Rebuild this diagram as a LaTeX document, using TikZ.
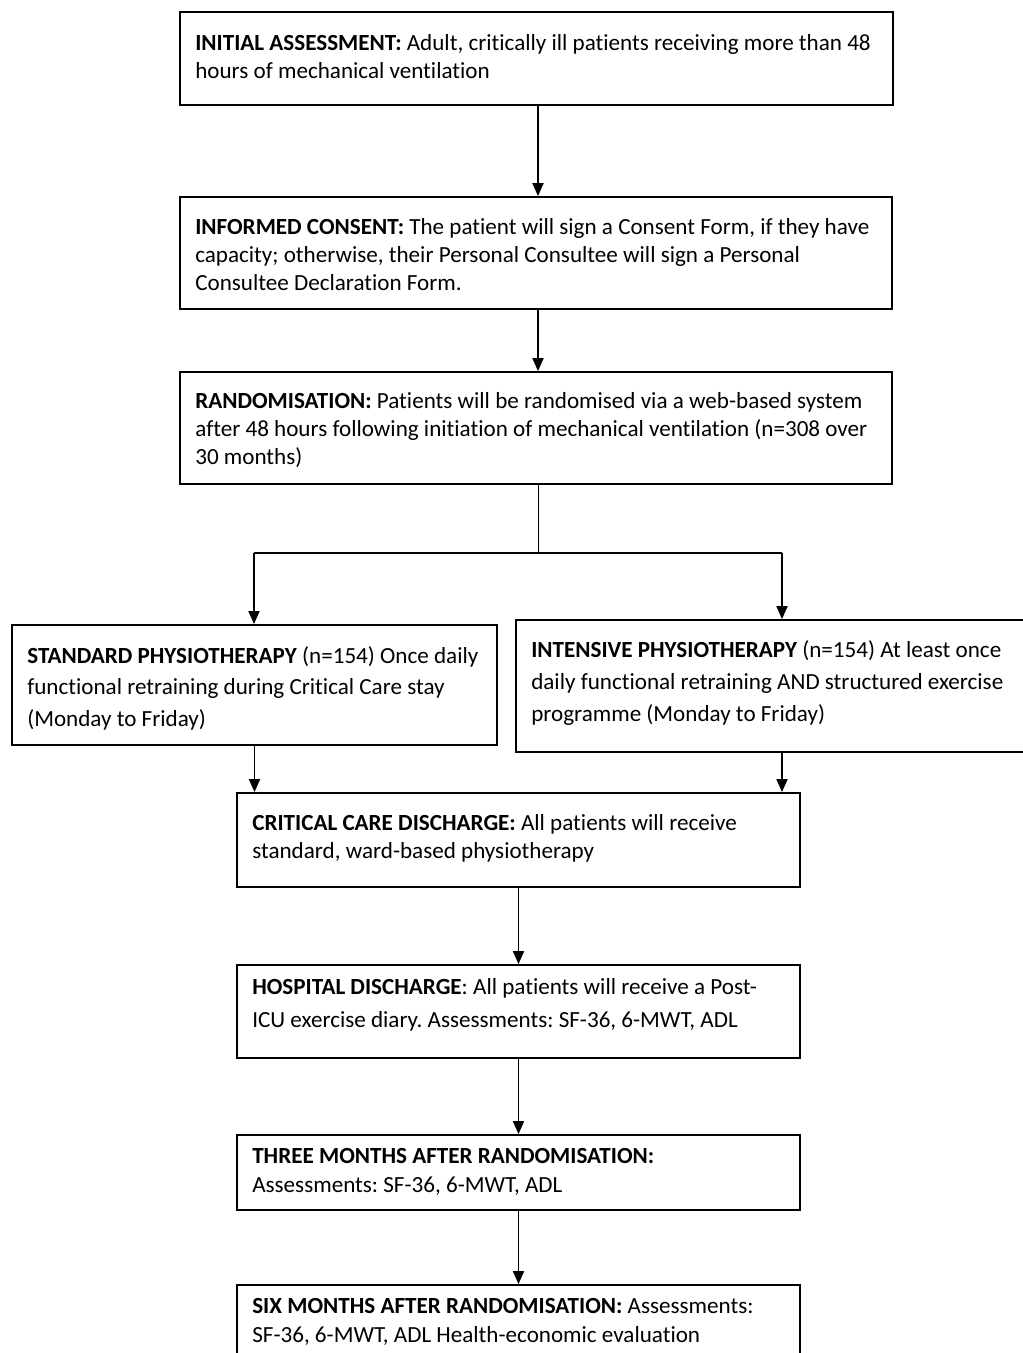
\documentclass[tikz,border=0pt]{standalone}
\usepackage{fontspec}
\setmainfont{Carlito}[Ligatures={NoCommon}]
\usetikzlibrary{arrows.meta}
\begin{document}
\frenchspacing
\begin{tikzpicture}[x=1pt,y=-1pt,
  box/.style={draw, line width=1.8pt, rectangle, inner sep=0pt},
  txt/.style={anchor=west, align=left, inner sep=0pt, font=\fontsize{23.1}{28}\selectfont\frenchspacing},
  arr/.style={line width=1.8pt, -{Triangle[length=13pt,width=11pt]}}]
\useasboundingbox (0,0) rectangle (1023,1353);
\clip (0,0) rectangle (1023,1353);
% boxes
\node[box, minimum width=713pt, minimum height=93pt] (b1) at (536.5,58.5) {};
\node[box, minimum width=712pt, minimum height=112pt] (b2) at (536,253) {};
\node[box, minimum width=712pt, minimum height=112pt] (b3) at (536,428) {};
\node[box, minimum width=485pt, minimum height=120pt] (b4) at (254.5,685) {};
\node[box, minimum width=532pt, minimum height=132pt] (b5) at (782,686) {};
\node[box, minimum width=563pt, minimum height=94pt] (b6) at (518.5,840) {};
\node[box, minimum width=563pt, minimum height=93pt] (b7) at (518.5,1011.5) {};
\node[box, minimum width=563pt, minimum height=75pt] (b8) at (518.5,1172.5) {};
\node[box, minimum width=563pt, minimum height=75pt] (b9) at (518.5,1322.5) {};
% texts
\node[txt] (t1) at ([xshift=16pt,yshift=2pt]b1.west) {\textbf{INITIAL ASSESSMENT:} Adult, critically ill patients receiving more than 48\\hours of mechanical ventilation};
\node[txt] (t2) at ([xshift=16pt,yshift=-2pt]b2.west) {\textbf{INFORMED CONSENT:} The patient will sign a Consent Form, if they have\\capacity; otherwise, their Personal Consultee will sign a Personal\\Consultee Declaration Form.};
\node[txt] (t3) at ([xshift=16pt,yshift=-2pt]b3.west) {\textbf{RANDOMISATION:} Patients will be randomised via a web-based system\\after 48 hours following initiation of mechanical ventilation (n=308 over\\30 months)};
\node[txt, font=\fontsize{23.1}{31.5}\selectfont] (t4) at ([xshift=16pt,yshift=-3pt]b4.west) {\textbf{STANDARD PHYSIOTHERAPY} (n=154) Once daily\\functional retraining during Critical Care stay\\(Monday to Friday)};
\node[txt, font=\fontsize{23.1}{32}\selectfont] (t5) at ([xshift=16pt,yshift=3pt]b5.west) {\textbf{INTENSIVE PHYSIOTHERAPY} (n=154) At least once\\daily functional retraining AND structured exercise\\programme (Monday to Friday)};
\node[txt] (t6) at ([xshift=16pt,yshift=2pt]b6.west) {\textbf{CRITICAL CARE DISCHARGE:} All patients will receive\\standard, ward-based physiotherapy};
\node[txt, font=\fontsize{23.1}{33}\selectfont] (t7) at ([xshift=16pt,yshift=7pt]b7.west) {\textbf{HOSPITAL DISCHARGE}: All patients will receive a Post-\\ICU exercise diary. Assessments: SF-36, 6-MWT, ADL};
\node[txt, font=\fontsize{23.1}{29}\selectfont] (t8) at ([xshift=16pt,yshift=1pt]b8.west) {\textbf{THREE MONTHS AFTER RANDOMISATION:}\\Assessments: SF-36, 6-MWT, ADL};
\node[txt, font=\fontsize{23.1}{29}\selectfont] (t9) at ([xshift=16pt,yshift=1pt]b9.west) {\textbf{SIX MONTHS AFTER RANDOMISATION:} Assessments:\\SF-36, 6-MWT, ADL Health-economic evaluation};
% connectors
\coordinate (split) at (538,553);
\coordinate (sl) at (254,553);
\coordinate (sr) at (782,553);
\draw[arr] (b1.south -| 538,0) -- (b2.north -| 538,0);
\draw[arr] (b2.south -| 538,0) -- (b3.north -| 538,0);
\draw[line width=1pt] (b3.south -| split) -- (split);
\draw[line width=1.8pt] (sl) -- (sr);
\draw[arr] (sl) -- (sl |- b4.north);
\draw[arr] (sr) -- (sr |- b5.north);
\draw[arr] (b4.south) -- (b4.south |- b6.north);
\draw[arr] (b5.south) -- (b5.south |- b6.north);
\draw[arr] (b6.south) -- (b6.south |- b7.north);
\draw[arr] (b7.south) -- (b7.south |- b8.north);
\draw[arr] (b8.south) -- (b8.south |- b9.north);
\end{tikzpicture}
\end{document}
